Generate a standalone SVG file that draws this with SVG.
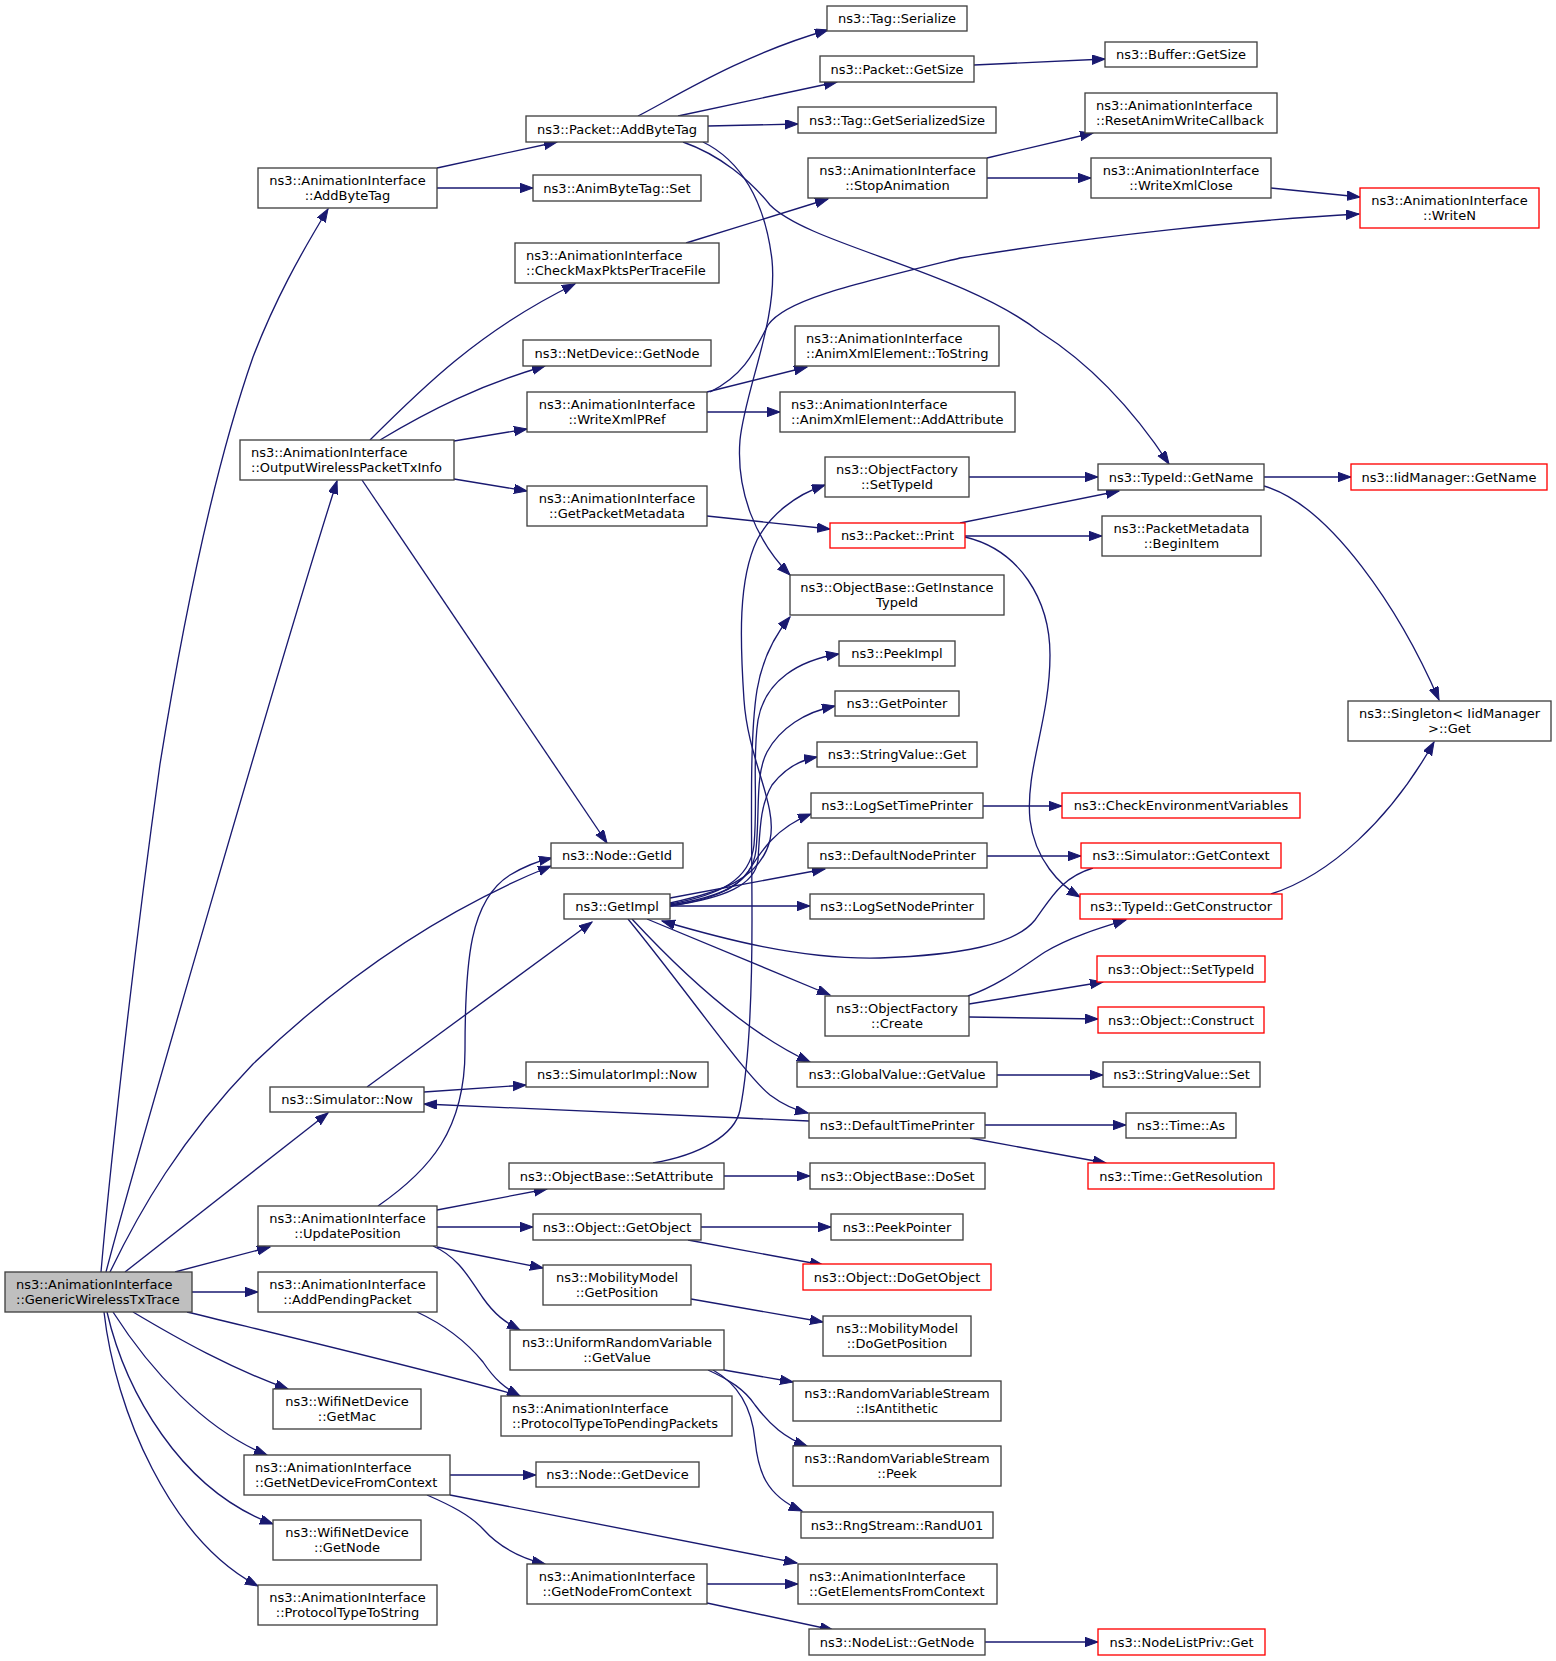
<svg xmlns="http://www.w3.org/2000/svg" width="1556" height="1661" viewBox="0 0 1556 1661">
<style>
.node rect{fill:#ffffff;stroke:#404040;stroke-width:1.33}
.node.red rect{stroke:#ff0000}
.node.root rect{fill:#bfbfbf}
.node text{font-family:"DejaVu Sans","Liberation Sans",sans-serif;font-size:13px;fill:#000000}
.c{text-anchor:middle}
.s{text-anchor:start}
#edges path{fill:none;stroke:#191970;stroke-width:1.33;marker-end:url(#arr)}
</style>
<defs>
<marker id="arr" markerUnits="userSpaceOnUse" markerWidth="15" markerHeight="11" refX="13" refY="4.7" orient="auto">
<path d="M0,0 L13,4.7 L0,9.4 z" fill="#191970" stroke="#191970" stroke-width="1"/>
</marker>
</defs>
<rect x="0" y="0" width="1556" height="1661" fill="#ffffff"/>
<g id="edges">
<path d="M101,1272 C108,1190 130,980 160,764 C180,640 210,480 253,357 C275,300 300,255 328,209"/>
<path d="M106,1272 C130,1180 280,660 337,481"/>
<path d="M110,1272 C140,1210 180,1140 253,1064 C330,990 430,915 551,866"/>
<path d="M125,1272 L328,1113"/>
<path d="M175,1272 L270,1247"/>
<path d="M192,1292 L258,1292"/>
<path d="M187,1312 C260,1330 430,1370 520,1396"/>
<path d="M133,1312 C180,1340 230,1368 288,1389"/>
<path d="M113,1312 C150,1370 205,1430 267,1455"/>
<path d="M107,1312 C125,1390 180,1490 273,1524"/>
<path d="M104,1312 C115,1410 170,1540 258,1586"/>
<path d="M437,168 L557,142"/>
<path d="M437,188 L533,188"/>
<path d="M638,116 C670,100 740,55 828,30"/>
<path d="M678,116 L837,82"/>
<path d="M708,126 L798,124"/>
<path d="M974,65 L1105,59"/>
<path d="M703,142 C740,160 765,200 772,260 C778,320 745,390 740,440 C736,490 755,540 790,575"/>
<path d="M683,142 C720,155 750,180 770,205 C810,245 960,270 1040,332 C1100,370 1140,420 1169,464"/>
<path d="M686,243 L828,199"/>
<path d="M987,158 L1093,133"/>
<path d="M987,178 L1091,178"/>
<path d="M1271,188 L1360,197"/>
<path d="M370,440 C420,390 480,330 575,284"/>
<path d="M380,440 C430,410 480,385 545,366"/>
<path d="M454,441 L527,429"/>
<path d="M454,479 L527,491"/>
<path d="M362,480 L607,843"/>
<path d="M707,392 L807,367"/>
<path d="M707,412 L780,412"/>
<path d="M710,392 C745,375 755,350 768,325 C785,300 850,285 960,258 C1100,235 1250,220 1359,214"/>
<path d="M707,516 L830,529"/>
<path d="M969,477 L1098,477"/>
<path d="M960,523 L1119,491"/>
<path d="M965,536 L1102,536"/>
<path d="M965,537 C1020,550 1050,600 1050,655 C1050,720 1025,770 1030,820 C1035,860 1060,885 1080,897"/>
<path d="M1264,477 L1351,477"/>
<path d="M1264,486 C1330,505 1400,610 1439,700"/>
<path d="M1271,894 C1330,875 1390,820 1434,742"/>
<path d="M983,806 L1062,806"/>
<path d="M987,856 L1081,856"/>
<path d="M1093,868 C1060,878 1050,900 1035,920 C1015,945 960,955 880,958 C800,960 720,938 662,921"/>
<path d="M670,903 C720,892 760,880 770,840 C778,805 748,760 744,700 C740,640 738,580 757,540 C770,515 795,495 825,485"/>
<path d="M670,904 C720,895 750,880 754,845 C758,800 752,760 758,720 C765,680 800,660 839,654"/>
<path d="M670,905 C720,897 752,885 756,850 C760,810 755,775 767,752 C780,728 805,712 835,706"/>
<path d="M670,906 C725,898 755,885 758,860 C760,830 760,805 772,785 C785,768 800,760 817,757"/>
<path d="M670,906 C710,900 735,890 748,872 C760,853 775,828 811,814"/>
<path d="M670,898 L825,869"/>
<path d="M670,906 L810,906"/>
<path d="M647,919 L830,995"/>
<path d="M632,919 C670,960 740,1030 810,1062"/>
<path d="M628,919 C690,995 745,1075 770,1095 C782,1104 795,1110 808,1113"/>
<path d="M367,1087 L592,922"/>
<path d="M424,1092 L526,1085"/>
<path d="M809,1121 L424,1104"/>
<path d="M985,1125 L1126,1125"/>
<path d="M970,1138 L1106,1163"/>
<path d="M997,1075 L1103,1075"/>
<path d="M968,996 C1000,985 1025,965 1045,952 C1070,937 1100,928 1126,920"/>
<path d="M969,1004 L1103,982"/>
<path d="M969,1017 L1098,1019"/>
<path d="M378,1206 C430,1170 465,1130 465,1050 C465,960 470,900 510,875 C525,866 538,861 552,858"/>
<path d="M437,1210 L547,1189"/>
<path d="M437,1227 L533,1227"/>
<path d="M437,1247 L543,1268"/>
<path d="M433,1246 C460,1258 470,1280 483,1298 C495,1315 505,1322 520,1330"/>
<path d="M417,1312 C445,1325 465,1340 483,1362 C495,1380 505,1388 520,1396"/>
<path d="M724,1176 L810,1176"/>
<path d="M653,1163 C700,1155 735,1135 740,1110 C750,1060 752,980 752,920 C752,830 749,740 757,690 C762,660 775,635 790,617"/>
<path d="M701,1227 L831,1227"/>
<path d="M688,1240 L823,1265"/>
<path d="M691,1299 L823,1322"/>
<path d="M724,1370 L793,1382"/>
<path d="M708,1370 C730,1380 745,1390 755,1405 C770,1425 785,1438 807,1446"/>
<path d="M713,1370 C740,1385 752,1410 755,1440 C758,1470 765,1495 802,1511"/>
<path d="M450,1475 L536,1475"/>
<path d="M450,1495 L797,1563"/>
<path d="M427,1495 C450,1505 470,1515 483,1529 C500,1548 520,1558 545,1564"/>
<path d="M707,1584 L798,1584"/>
<path d="M707,1603 L833,1630"/>
<path d="M985,1642 L1098,1642"/>
</g>
<g id="nodes">
<g id="n0" class="node root"><rect x="5" y="1272" width="187" height="40"/><text class="s" x="16" y="1289">ns3::AnimationInterface</text><text class="s" x="16" y="1304">::GenericWirelessTxTrace</text></g>
<g id="n1" class="node"><rect x="258" y="168" width="179" height="40"/><text class="c" x="347.5" y="185">ns3::AnimationInterface</text><text class="c" x="347.5" y="200">::AddByteTag</text></g>
<g id="n2" class="node"><rect x="240" y="440" width="214" height="40"/><text class="s" x="251" y="457">ns3::AnimationInterface</text><text class="s" x="251" y="472">::OutputWirelessPacketTxInfo</text></g>
<g id="n3" class="node"><rect x="526" y="116" width="182" height="26"/><text class="c" x="617" y="133.5">ns3::Packet::AddByteTag</text></g>
<g id="n4" class="node"><rect x="533" y="175" width="168" height="26"/><text class="c" x="617" y="192.5">ns3::AnimByteTag::Set</text></g>
<g id="n5" class="node"><rect x="827" y="6" width="140" height="25"/><text class="c" x="897" y="23">ns3::Tag::Serialize</text></g>
<g id="n6" class="node"><rect x="820" y="56" width="154" height="26"/><text class="c" x="897" y="73.5">ns3::Packet::GetSize</text></g>
<g id="n7" class="node"><rect x="798" y="107" width="198" height="26"/><text class="c" x="897" y="124.5">ns3::Tag::GetSerializedSize</text></g>
<g id="n8" class="node"><rect x="808" y="158" width="179" height="40"/><text class="c" x="897.5" y="175">ns3::AnimationInterface</text><text class="c" x="897.5" y="190">::StopAnimation</text></g>
<g id="n9" class="node"><rect x="515" y="243" width="204" height="40"/><text class="s" x="526" y="260">ns3::AnimationInterface</text><text class="s" x="526" y="275">::CheckMaxPktsPerTraceFile</text></g>
<g id="n10" class="node"><rect x="523" y="340" width="188" height="26"/><text class="c" x="617" y="357.5">ns3::NetDevice::GetNode</text></g>
<g id="n11" class="node"><rect x="527" y="392" width="180" height="40"/><text class="c" x="617" y="409">ns3::AnimationInterface</text><text class="c" x="617" y="424">::WriteXmlPRef</text></g>
<g id="n12" class="node"><rect x="795" y="326" width="204" height="40"/><text class="s" x="806" y="343">ns3::AnimationInterface</text><text class="s" x="806" y="358">::AnimXmlElement::ToString</text></g>
<g id="n13" class="node"><rect x="780" y="392" width="235" height="40"/><text class="s" x="791" y="409">ns3::AnimationInterface</text><text class="s" x="791" y="424">::AnimXmlElement::AddAttribute</text></g>
<g id="n14" class="node"><rect x="825" y="457" width="144" height="40"/><text class="c" x="897" y="474">ns3::ObjectFactory</text><text class="c" x="897" y="489">::SetTypeId</text></g>
<g id="n15" class="node"><rect x="527" y="486" width="180" height="40"/><text class="c" x="617" y="503">ns3::AnimationInterface</text><text class="c" x="617" y="518">::GetPacketMetadata</text></g>
<g id="n16" class="node red"><rect x="830" y="523" width="135" height="25"/><text class="c" x="897.5" y="540">ns3::Packet::Print</text></g>
<g id="n17" class="node"><rect x="1105" y="42" width="152" height="25"/><text class="c" x="1181" y="59">ns3::Buffer::GetSize</text></g>
<g id="n18" class="node"><rect x="1085" y="93" width="192" height="40"/><text class="s" x="1096" y="110">ns3::AnimationInterface</text><text class="s" x="1096" y="125">::ResetAnimWriteCallback</text></g>
<g id="n19" class="node"><rect x="1091" y="158" width="180" height="40"/><text class="c" x="1181" y="175">ns3::AnimationInterface</text><text class="c" x="1181" y="190">::WriteXmlClose</text></g>
<g id="n20" class="node red"><rect x="1360" y="188" width="179" height="40"/><text class="c" x="1449.5" y="205">ns3::AnimationInterface</text><text class="c" x="1449.5" y="220">::WriteN</text></g>
<g id="n21" class="node"><rect x="1098" y="464" width="166" height="26"/><text class="c" x="1181" y="481.5">ns3::TypeId::GetName</text></g>
<g id="n22" class="node red"><rect x="1351" y="464" width="196" height="26"/><text class="c" x="1449" y="481.5">ns3::IidManager::GetName</text></g>
<g id="n23" class="node"><rect x="1102" y="516" width="159" height="40"/><text class="c" x="1181.5" y="533">ns3::PacketMetadata</text><text class="c" x="1181.5" y="548">::BeginItem</text></g>
<g id="n24" class="node"><rect x="790" y="575" width="214" height="40"/><text class="c" x="897" y="592">ns3::ObjectBase::GetInstance</text><text class="c" x="897" y="607">TypeId</text></g>
<g id="n25" class="node"><rect x="839" y="641" width="116" height="25"/><text class="c" x="897" y="658">ns3::PeekImpl</text></g>
<g id="n26" class="node"><rect x="835" y="691" width="124" height="25"/><text class="c" x="897" y="708">ns3::GetPointer</text></g>
<g id="n27" class="node"><rect x="817" y="742" width="160" height="25"/><text class="c" x="897" y="759">ns3::StringValue::Get</text></g>
<g id="n28" class="node"><rect x="811" y="793" width="172" height="25"/><text class="c" x="897" y="810">ns3::LogSetTimePrinter</text></g>
<g id="n29" class="node"><rect x="808" y="843" width="179" height="25"/><text class="c" x="897.5" y="860">ns3::DefaultNodePrinter</text></g>
<g id="n30" class="node"><rect x="810" y="894" width="174" height="25"/><text class="c" x="897" y="911">ns3::LogSetNodePrinter</text></g>
<g id="n31" class="node"><rect x="551" y="843" width="132" height="25"/><text class="c" x="617" y="860">ns3::Node::GetId</text></g>
<g id="n32" class="node"><rect x="564" y="894" width="106" height="25"/><text class="c" x="617" y="911">ns3::GetImpl</text></g>
<g id="n33" class="node"><rect x="825" y="996" width="144" height="40"/><text class="c" x="897" y="1013">ns3::ObjectFactory</text><text class="c" x="897" y="1028">::Create</text></g>
<g id="n34" class="node"><rect x="797" y="1062" width="200" height="25"/><text class="c" x="897" y="1079">ns3::GlobalValue::GetValue</text></g>
<g id="n35" class="node"><rect x="526" y="1062" width="182" height="25"/><text class="c" x="617" y="1079">ns3::SimulatorImpl::Now</text></g>
<g id="n36" class="node"><rect x="1348" y="701" width="203" height="40"/><text class="c" x="1449.5" y="718">ns3::Singleton&lt; IidManager</text><text class="c" x="1449.5" y="733">&gt;::Get</text></g>
<g id="n37" class="node red"><rect x="1062" y="793" width="238" height="25"/><text class="c" x="1181" y="810">ns3::CheckEnvironmentVariables</text></g>
<g id="n38" class="node red"><rect x="1081" y="843" width="200" height="25"/><text class="c" x="1181" y="860">ns3::Simulator::GetContext</text></g>
<g id="n39" class="node red"><rect x="1080" y="894" width="202" height="25"/><text class="c" x="1181" y="911">ns3::TypeId::GetConstructor</text></g>
<g id="n40" class="node red"><rect x="1097" y="956" width="168" height="26"/><text class="c" x="1181" y="973.5">ns3::Object::SetTypeId</text></g>
<g id="n41" class="node red"><rect x="1098" y="1007" width="166" height="26"/><text class="c" x="1181" y="1024.5">ns3::Object::Construct</text></g>
<g id="n42" class="node"><rect x="1103" y="1062" width="157" height="25"/><text class="c" x="1181.5" y="1079">ns3::StringValue::Set</text></g>
<g id="n43" class="node"><rect x="270" y="1087" width="154" height="25"/><text class="c" x="347" y="1104">ns3::Simulator::Now</text></g>
<g id="n44" class="node"><rect x="258" y="1206" width="179" height="40"/><text class="c" x="347.5" y="1223">ns3::AnimationInterface</text><text class="c" x="347.5" y="1238">::UpdatePosition</text></g>
<g id="n45" class="node"><rect x="258" y="1272" width="179" height="40"/><text class="c" x="347.5" y="1289">ns3::AnimationInterface</text><text class="c" x="347.5" y="1304">::AddPendingPacket</text></g>
<g id="n46" class="node"><rect x="273" y="1389" width="148" height="40"/><text class="c" x="347" y="1406">ns3::WifiNetDevice</text><text class="c" x="347" y="1421">::GetMac</text></g>
<g id="n47" class="node"><rect x="244" y="1455" width="206" height="40"/><text class="s" x="255" y="1472">ns3::AnimationInterface</text><text class="s" x="255" y="1487">::GetNetDeviceFromContext</text></g>
<g id="n48" class="node"><rect x="273" y="1520" width="148" height="40"/><text class="c" x="347" y="1537">ns3::WifiNetDevice</text><text class="c" x="347" y="1552">::GetNode</text></g>
<g id="n49" class="node"><rect x="258" y="1585" width="179" height="40"/><text class="c" x="347.5" y="1602">ns3::AnimationInterface</text><text class="c" x="347.5" y="1617">::ProtocolTypeToString</text></g>
<g id="n50" class="node"><rect x="809" y="1113" width="176" height="25"/><text class="c" x="897" y="1130">ns3::DefaultTimePrinter</text></g>
<g id="n51" class="node"><rect x="509" y="1163" width="215" height="26"/><text class="c" x="616.5" y="1180.5">ns3::ObjectBase::SetAttribute</text></g>
<g id="n52" class="node"><rect x="810" y="1163" width="175" height="26"/><text class="c" x="897.5" y="1180.5">ns3::ObjectBase::DoSet</text></g>
<g id="n53" class="node"><rect x="533" y="1214" width="168" height="26"/><text class="c" x="617" y="1231.5">ns3::Object::GetObject</text></g>
<g id="n54" class="node"><rect x="831" y="1214" width="132" height="26"/><text class="c" x="897" y="1231.5">ns3::PeekPointer</text></g>
<g id="n55" class="node red"><rect x="803" y="1264" width="188" height="26"/><text class="c" x="897" y="1281.5">ns3::Object::DoGetObject</text></g>
<g id="n56" class="node"><rect x="543" y="1265" width="148" height="40"/><text class="c" x="617" y="1282">ns3::MobilityModel</text><text class="c" x="617" y="1297">::GetPosition</text></g>
<g id="n57" class="node"><rect x="823" y="1316" width="148" height="40"/><text class="c" x="897" y="1333">ns3::MobilityModel</text><text class="c" x="897" y="1348">::DoGetPosition</text></g>
<g id="n58" class="node"><rect x="510" y="1330" width="214" height="40"/><text class="c" x="617" y="1347">ns3::UniformRandomVariable</text><text class="c" x="617" y="1362">::GetValue</text></g>
<g id="n59" class="node"><rect x="793" y="1381" width="208" height="40"/><text class="c" x="897" y="1398">ns3::RandomVariableStream</text><text class="c" x="897" y="1413">::IsAntithetic</text></g>
<g id="n60" class="node"><rect x="501" y="1396" width="231" height="40"/><text class="s" x="512" y="1413">ns3::AnimationInterface</text><text class="s" x="512" y="1428">::ProtocolTypeToPendingPackets</text></g>
<g id="n61" class="node"><rect x="793" y="1446" width="208" height="40"/><text class="c" x="897" y="1463">ns3::RandomVariableStream</text><text class="c" x="897" y="1478">::Peek</text></g>
<g id="n62" class="node"><rect x="536" y="1462" width="163" height="25"/><text class="c" x="617.5" y="1479">ns3::Node::GetDevice</text></g>
<g id="n63" class="node"><rect x="801" y="1512" width="192" height="26"/><text class="c" x="897" y="1529.5">ns3::RngStream::RandU01</text></g>
<g id="n64" class="node"><rect x="527" y="1564" width="180" height="40"/><text class="c" x="617" y="1581">ns3::AnimationInterface</text><text class="c" x="617" y="1596">::GetNodeFromContext</text></g>
<g id="n65" class="node"><rect x="798" y="1564" width="199" height="40"/><text class="s" x="809" y="1581">ns3::AnimationInterface</text><text class="s" x="809" y="1596">::GetElementsFromContext</text></g>
<g id="n66" class="node"><rect x="809" y="1629" width="176" height="26"/><text class="c" x="897" y="1646.5">ns3::NodeList::GetNode</text></g>
<g id="n67" class="node"><rect x="1126" y="1113" width="110" height="25"/><text class="c" x="1181" y="1130">ns3::Time::As</text></g>
<g id="n68" class="node red"><rect x="1088" y="1163" width="186" height="26"/><text class="c" x="1181" y="1180.5">ns3::Time::GetResolution</text></g>
<g id="n69" class="node red"><rect x="1098" y="1629" width="167" height="26"/><text class="c" x="1181.5" y="1646.5">ns3::NodeListPriv::Get</text></g>
</g>
</svg>
